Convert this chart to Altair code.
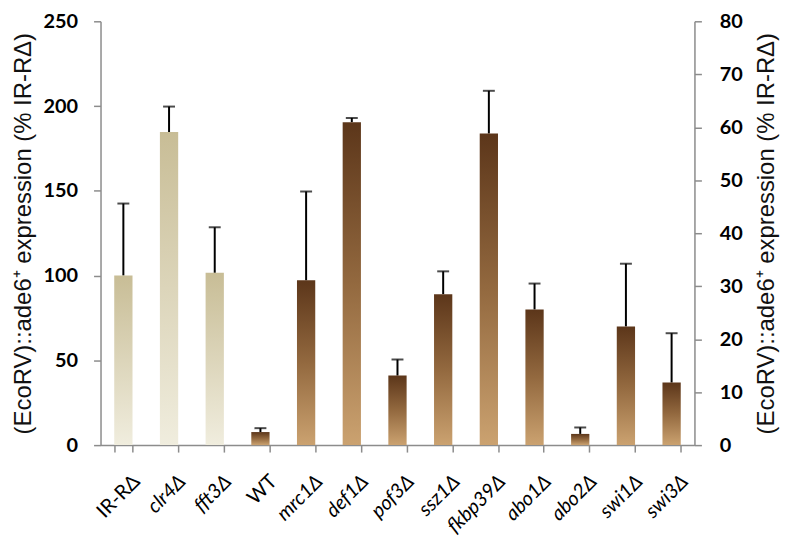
import altair as alt
import pandas as pd

strains = ["IR-RΔ", "clr4Δ", "fft3Δ", "WT", "mrc1Δ", "def1Δ", "pof3Δ",
           "ssz1Δ", "fkbp39Δ", "abo1Δ", "abo2Δ", "swi1Δ", "swi3Δ"]
values = [100, 184.7, 101.6, 7.7, 97.2, 190.5, 41, 89, 183.8, 80, 6.6, 70, 36.9]
upper = [142.5, 199.7, 128.5, 10, 149.6, 193, 50.5, 102.5, 209, 95.3, 10.4, 107, 66]
group = ["control"] * 3 + ["mutant"] * 10

left_ticks = [0, 50, 100, 150, 200, 250]
right_ticks = [0, 10, 20, 30, 40, 50, 60, 70, 80]
left_max = 250
right_max = 80

title_text = "(EcoRV)::ade6⁺ expression (% IR-RΔ)"

df = pd.DataFrame({"strain": strains, "value": values, "upper": upper, "group": group})

AX = "#8c8c8c"
ratio = left_max / right_max

x = alt.X(
    "strain:N", sort=strains,
    scale=alt.Scale(paddingInner=0.6, paddingOuter=0.3),
    axis=alt.Axis(
        title=None, labelAngle=-45, labelFont="Lato", labelFontSize=20,
        labelFontStyle={"condition": {"test": "datum.value == 'WT' || datum.value == 'IR-RΔ'", "value": "normal"}, "value": "italic"},
        labelColor="black", tickBand="extent", tickSize=7, labelPadding=19, labelOffset=6,
        domainColor=AX, tickColor=AX, domainWidth=1.5, tickWidth=1.5,
    ),
)

yscale = alt.Scale(domain=[0, left_max], nice=False)

common_axis = dict(
    grid=False, labelFont="Lato", labelFontWeight="bold", labelFontSize=20, labelColor="black",
    tickSize=7, titleFont="Liberation Sans", titleFontSize=24,
    titleFontWeight="normal", titleColor="#111111",
    domainColor=AX, tickColor=AX, domainWidth=1.5, tickWidth=1.5,
)

left_axis = alt.Axis(orient="left", title=title_text, values=left_ticks,
                     labelPadding=16, titlePadding=8, **common_axis)
right_axis = alt.Axis(
    orient="right", title=title_text, values=[v * ratio for v in right_ticks],
    labelExpr=f"format(datum.value / {ratio}, 'd')", labelPadding=18,
    titleAngle=270, titleBaseline="top", titlePadding=12, **common_axis,
)

beige_grad = alt.Gradient(
    gradient="linear",
    stops=[alt.GradientStop(color="#F0EDDE", offset=0),
           alt.GradientStop(color="#C8BD96", offset=1)],
    x1=0, x2=0, y1=1, y2=0,
)
brown_grad = alt.Gradient(
    gradient="linear",
    stops=[alt.GradientStop(color="#CBA270", offset=0),
           alt.GradientStop(color="#93693F", offset=0.5),
           alt.GradientStop(color="#5C361A", offset=1)],
    x1=0, x2=0, y1=1, y2=0,
)

base = alt.Chart(df)

rules = base.mark_rule(color="black", strokeWidth=2).encode(
    x=x, y=alt.Y("value:Q", scale=yscale, axis=left_axis), y2="upper:Q")
caps = base.mark_tick(color="black", thickness=2, size=12).encode(
    x=x, y=alt.Y("upper:Q", scale=yscale, axis=None))
beige = base.transform_filter("datum.group == 'control'").mark_bar(color=beige_grad).encode(
    x=x, y=alt.Y("value:Q", scale=yscale, axis=None))
brown = base.transform_filter("datum.group == 'mutant'").mark_bar(color=brown_grad).encode(
    x=x, y=alt.Y("value:Q", scale=yscale, axis=None))
right = base.mark_point(opacity=0).encode(
    x=x, y=alt.Y("value:Q", scale=yscale, axis=right_axis))

chart = (
    alt.layer(rules, caps, beige, brown, right)
    .resolve_axis(y="independent")
    .properties(width=597, height=426,
                padding={"left": 3, "top": 2, "right": 2, "bottom": 0},
                background="white")
    .configure_view(stroke=None)
)

chart.save("out.html", embed_options={"renderer": "svg", "actions": False})
